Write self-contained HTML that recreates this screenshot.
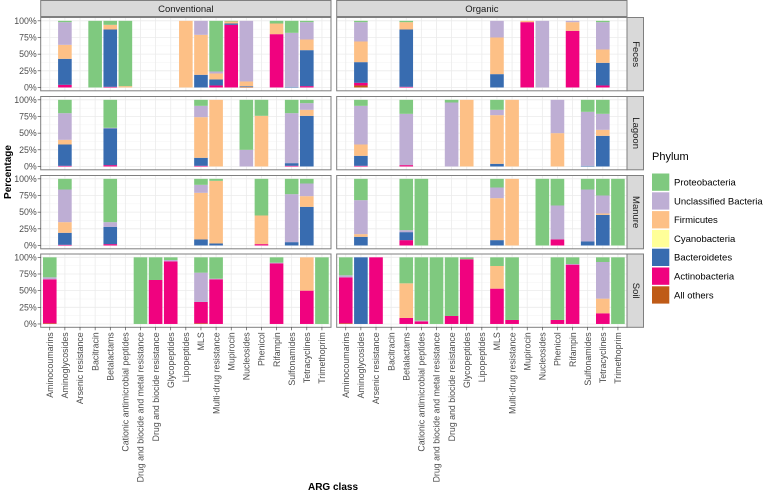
<!DOCTYPE html>
<html><head><meta charset="utf-8"><style>
body{margin:0;background:#fff}
svg{display:block;font-family:"Liberation Sans",Arial,sans-serif}
</style></head><body>
<svg id="chart" width="778" height="494" viewBox="0 0 778 494" xmlns="http://www.w3.org/2000/svg"></svg>
<script>
const categories=["Aminocoumarins","Aminoglycosides","Arsenic resistance","Bacitracin","Betalactams","Cationic antimicrobial peptides","Drug and biocide and metal resistance","Drug and biocide resistance","Glycopeptides","Lipopeptides","MLS","Multi-drug resistance","Mupirocin","Nucleosides","Phenicol","Rifampin","Sulfonamides","Tetracyclines","Trimethoprim"];
const phyla=["All others","Actinobacteria","Bacteroidetes","Cyanobacteria","Firmicutes","Unclassified Bacteria","Proteobacteria"];
const legendOrder=["Proteobacteria","Unclassified Bacteria","Firmicutes","Cyanobacteria","Bacteroidetes","Actinobacteria","All others"];
const yTicks=[0,25,50,75,100];
const yTickLabels=["0%","25%","50%","75%","100%"];
const systems=["Conventional","Organic"];
const sources=["Feces","Lagoon","Manure","Soil"];
// rows: [categoryIndex, others, actino, bacteroidetes, cyano, firmicutes, unclassified, proteo]
const fecesConventional=[[1,0,4,39,0,21,34,2],[3,0,0,0,0,0,0,100],[4,0,1,86,0,7,0,6],[5,0,0,0,0,2,0,98],[9,0,0,0,0,100,0,0],[10,0,0,19,0,60,21,0],[11,0,3,9,0,9,3,76],[12,0,94,2,0,3,0,1],[13,1,0,1,0,7,91,0],[15,0,80,0,0,16,0,4],[16,0,0,1,0,0,81,18],[17,0,2,54,0,16,26,2]];
const fecesOrganic=[[1,3,4,31,0,31,29,2],[4,0,1,86,0,11,0,2],[10,0,0,20,0,55,25,0],[12,0,98,0,0,2,0,0],[13,0,0,0,0,0,100,0],[15,0,85,0,0,13,2,0],[17,0,3,34,0,20,41,2]];
const lagoonConventional=[[1,0,1,32,0,7,40,20],[4,0,2,55,0,0,1,42],[10,0,1,12,0,61,17,9],[11,0,0,0,0,100,0,0],[13,0,0,0,0,0,25,75],[14,0,0,0,0,76,0,24],[16,0,1,4,0,0,75,20],[17,0,0,76,0,9,10,5]];
const lagoonOrganic=[[1,0,1,15,0,17,58,9],[4,0,2,0,0,0,77,21],[7,0,0,0,0,0,96,4],[8,0,0,0,0,100,0,0],[10,0,0,4,0,73,8,15],[11,0,0,0,0,100,0,0],[14,0,0,0,0,50,50,0],[16,0,0,1,0,0,81,18],[17,0,0,46,0,9,24,21]];
const manureConventional=[[1,0,1,18,0,16,49,16],[4,0,2,26,0,0,7,65],[10,0,0,9,0,70,12,9],[11,0,0,3,0,94,0,3],[14,0,2,0,0,43,0,55],[16,0,0,5,0,0,72,23],[17,0,0,58,0,16,19,7]];
const manureOrganic=[[1,0,0,13,0,4,51,32],[4,0,8,12,0,0,3,77],[5,0,0,0,0,0,0,100],[10,0,0,8,0,63,16,13],[11,0,0,0,0,100,0,0],[13,0,0,0,0,0,0,100],[14,0,9,0,0,0,51,40],[16,0,0,6,0,0,78,16],[17,0,0,46,0,2,27,25],[18,0,0,0,0,0,0,100]];
const soilConventional=[[0,1,66,0,0,0,3,30],[6,0,0,0,0,0,0,100],[7,0,66,0,0,0,0,34],[8,0,94,0,0,0,2,4],[10,1,32,0,0,0,44,23],[11,0,67,0,0,0,1,32],[15,0,91,0,0,0,1,8],[17,0,50,0,0,50,0,0],[18,0,0,0,0,0,0,100]];
const soilOrganic=[[0,1,69,0,0,0,3,27],[1,0,0,100,0,0,0,0],[2,0,100,0,0,0,0,0],[4,0,9,0,0,52,0,39],[5,0,4,0,0,0,1,95],[6,0,0,0,0,0,0,100],[7,0,12,0,0,0,0,88],[8,0,97,0,0,0,0,3],[10,0,53,0,0,34,0,13],[11,0,6,0,0,0,0,94],[14,0,6,0,0,0,0,94],[15,0,89,0,0,0,1,10],[17,0,16,0,0,22,55,7],[18,0,0,0,0,0,0,100]];
const panelData=[[fecesConventional,fecesOrganic],[lagoonConventional,lagoonOrganic],[manureConventional,manureOrganic],[soilConventional,soilOrganic]];

const colors={"Proteobacteria":"#7FC97F","Unclassified Bacteria":"#BEAED4","Firmicutes":"#FDC086","Cyanobacteria":"#FFFF99","Bacteroidetes":"#386CB0","Actinobacteria":"#F0027F","All others":"#BF5B17"};
const NS="http://www.w3.org/2000/svg";
const svg=document.getElementById('chart');
function mk(tag,attrs,parent){const e=document.createElementNS(NS,tag);for(const k in attrs)e.setAttribute(k,attrs[k]);(parent||svg).appendChild(e);return e;}
const colLeft=[40.7,336.7], panelW=290.3;
const rowTop=[17.5,96.5,175.5,254], panelH=73.3;
const step=panelW/(categories.length-1+1.2);
function xPos(col,i){return colLeft[col]+(0.6+i)*step;}
function yPos(row,v){const pad=panelH*0.0455;return rowTop[row]+panelH-pad-(v/100)*(panelH-2*pad);}

for(let r=0;r<4;r++){for(let c=0;c<2;c++){
  const g=mk('g',{});
  
  
  // grid
  for(let t=0;t<yTicks.length;t++){
    mk('line',{x1:colLeft[c],x2:colLeft[c]+panelW,y1:yPos(r,yTicks[t]),y2:yPos(r,yTicks[t]),stroke:'#ebebeb','stroke-width':0.8},g);
    if(t<yTicks.length-1){const m=(yTicks[t]+yTicks[t+1])/2;mk('line',{x1:colLeft[c],x2:colLeft[c]+panelW,y1:yPos(r,m),y2:yPos(r,m),stroke:'#f3f3f3','stroke-width':0.5},g);}
  }
  for(let i=0;i<categories.length;i++){mk('line',{x1:xPos(c,i),x2:xPos(c,i),y1:rowTop[r],y2:rowTop[r]+panelH,stroke:'#ebebeb','stroke-width':0.8},g);}
  // bars
  const rows=panelData[r][c];
  for(const row of rows){
    const ci=row[0];let tot=0;for(let k=1;k<8;k++)tot+=row[k];
    let acc=0;
    for(let k=1;k<8;k++){
      const v=row[k]/tot*100;if(v<=0)continue;
      const y1=yPos(r,acc+v),y0=yPos(r,acc);
      const rect=mk('rect',{x:xPos(c,ci)-step*0.45,y:y1,width:step*0.9,height:Math.max(0.3,y0-y1),fill:colors[phyla[k-1]]},g);
      
      
      acc+=v;
    }
  }
  mk('rect',{x:colLeft[c],y:rowTop[r],width:panelW,height:panelH,fill:'none',stroke:'#7f7f7f','stroke-width':1},g);
}
  // y ticks labels
  for(let t=0;t<yTicks.length;t++){
    const y=yPos(r,yTicks[t]);
    mk('line',{x1:colLeft[0]-3,x2:colLeft[0],y1:y,y2:y,stroke:'#333','stroke-width':0.6});
    const tx=mk('text',{x:colLeft[0]-4,y:y+3,'font-size':8.8,'text-anchor':'end',fill:'#4d4d4d'});
    tx.textContent=yTickLabels[t];
    
    
  }
  // right strip
  const sg=mk('g',{});
  
  
  mk('rect',{x:627,y:rowTop[r],width:16.5,height:panelH,fill:'#d9d9d9',stroke:'#7f7f7f','stroke-width':1},sg);
  const st=mk('text',{x:635.5,y:rowTop[r]+panelH/2,'font-size':9.5,'text-anchor':'middle',fill:'#1a1a1a',transform:'rotate(90 635.5 '+(rowTop[r]+panelH/2)+')','dominant-baseline':'central'},sg);
  st.textContent=sources[r];
}
// top strips
for(let c=0;c<2;c++){
  const sg=mk('g',{});
  
  
  mk('rect',{x:colLeft[c],y:0.5,width:panelW,height:16,fill:'#d9d9d9',stroke:'#7f7f7f','stroke-width':1},sg);
  const t=mk('text',{x:colLeft[c]+panelW/2,y:12,'font-size':9.5,'text-anchor':'middle',fill:'#1a1a1a'},sg);
  t.textContent=systems[c];
  // x labels
  for(let i=0;i<categories.length;i++){
    const x=xPos(c,i),yb=rowTop[3]+panelH;
    mk('line',{x1:x,x2:x,y1:yb,y2:yb+3,stroke:'#333','stroke-width':0.6});
    const lx=x+3.2,ly=yb+5;
    const lt=mk('text',{x:lx,y:ly,'font-size':8.8,'text-anchor':'end',fill:'#4d4d4d',transform:'rotate(-90 '+lx+' '+ly+')'});
    lt.textContent=categories[i];
    
    
  }
}
const xt=mk('text',{x:333,y:490,'font-size':10,'font-weight':'bold','text-anchor':'middle',fill:'#000'});
xt.textContent='ARG class';


const yt=mk('text',{x:11,y:172,'font-size':10,'font-weight':'bold','text-anchor':'middle',fill:'#000',transform:'rotate(-90 11 172)'});
yt.textContent='Percentage';


// legend
const lg=mk('g',{});


const ltt=mk('text',{x:652,y:160,'font-size':11,fill:'#000'},lg);
ltt.textContent='Phylum';
for(let i=0;i<legendOrder.length;i++){
  const e=mk('g',{},lg);
  
  
  const y=173.5+i*18.8;
  mk('rect',{x:652,y:y,width:17.3,height:17.3,fill:colors[legendOrder[i]]},e);
  const t=mk('text',{x:674,y:y+12,'font-size':9.5,fill:'#000'},e);
  t.textContent=legendOrder[i];
}
</script>
</body></html>
